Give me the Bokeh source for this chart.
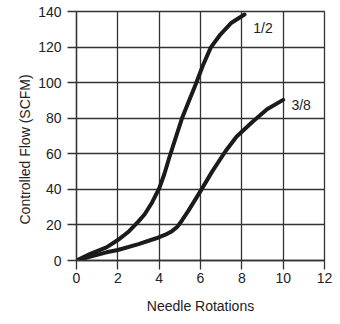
from bokeh.plotting import figure
from bokeh.models import FixedTicker, Label, Range1d, Title
from bokeh.embed import file_html
from bokeh.resources import INLINE

# Data
half_x = [0, 0.67, 1.45, 2, 2.5, 3, 3.3, 3.65, 4, 4.24, 4.48, 4.79, 5.1, 5.45, 5.75,
          6.11, 6.5, 6.97, 7.5, 8.13]
half_y = [0, 3.7, 7.4, 11.5, 16, 22, 26, 32.5, 40.5, 48.2, 57.5, 68.7, 79.8, 90, 98.5,
          109.5, 119.8, 127.2, 133.7, 138.3]
three8_x = [0, 0.67, 1.45, 2, 3, 3.86, 4.3, 4.62, 4.88, 5.12, 5.41, 6.0, 6.57, 7.2, 7.74,
            8.52, 9.22, 10]
three8_y = [0, 2.2, 4.6, 5.9, 9.2, 12.5, 14.5, 16.5, 19, 22.8, 27.9, 39, 50.1, 61.3, 69.6,
            78, 85, 90.3]
series_names = ["1/2", "3/8"]
x_ticks = [0, 2, 4, 6, 8, 10, 12]
y_ticks = [0, 20, 40, 60, 80, 100, 120, 140]
x_title = "Needle Rotations"
y_title = "Controlled Flow (SCFM)"

FONT = "Liberation Sans"
GRID = "#333333"
INK = "#1c1a1a"
TXT = "#222222"

p = figure(output_backend="svg", toolbar_location=None,
           frame_width=248, frame_height=249,
           min_border_left=76, min_border_right=8,
           min_border_top=11, min_border_bottom=56,
           x_range=Range1d(0, 12), y_range=Range1d(0, 140))
p.background_fill_color = "white"
p.border_fill_color = "white"
p.outline_line_color = GRID
p.outline_line_width = 1.3

for ax, ticks, standoff in ((p.xaxis, x_ticks, 3), (p.yaxis, y_ticks, 6)):
    ax.ticker = FixedTicker(ticks=ticks)
    ax.major_tick_out = 9
    ax.major_tick_in = 0
    ax.minor_tick_out = 0
    ax.minor_tick_in = 0
    ax.major_tick_line_color = GRID
    ax.major_tick_line_width = 1.3
    ax.axis_line_color = GRID
    ax.axis_line_width = 1.3
    ax.major_label_text_font = FONT
    ax.major_label_text_font_size = "14px"
    ax.major_label_text_color = TXT
    ax.major_label_standoff = standoff

p.xaxis.axis_label = x_title
p.xaxis.axis_label_standoff = 12
p.xaxis.axis_label_text_font = FONT
p.xaxis.axis_label_text_font_size = "14px"
p.xaxis.axis_label_text_font_style = "normal"
p.xaxis.axis_label_text_color = TXT

for g, ticks in ((p.xgrid, x_ticks), (p.ygrid, y_ticks)):
    g.ticker = FixedTicker(ticks=ticks)
    g.grid_line_color = GRID
    g.grid_line_width = 1.3
    g.grid_line_alpha = 1.0

p.line(half_x, half_y, line_color=INK, line_width=4, line_join="round", line_cap="round")
p.line(three8_x, three8_y, line_color=INK, line_width=4, line_join="round", line_cap="round")

p.add_layout(Label(x=8.55, y=130.5, text=series_names[0], text_font=FONT,
                   text_font_size="14px", text_color=TXT,
                   text_align="left", text_baseline="middle"))
p.add_layout(Label(x=10.4, y=87.2, text=series_names[1], text_font=FONT,
                   text_font_size="14px", text_color=TXT,
                   text_align="left", text_baseline="middle"))

p.add_layout(Title(text=y_title, align="left", offset=36, standoff=6,
                   text_font=FONT, text_font_size="14px",
                   text_font_style="normal", text_color=TXT), "left")

open("out.html", "w").write(file_html(p, INLINE))
